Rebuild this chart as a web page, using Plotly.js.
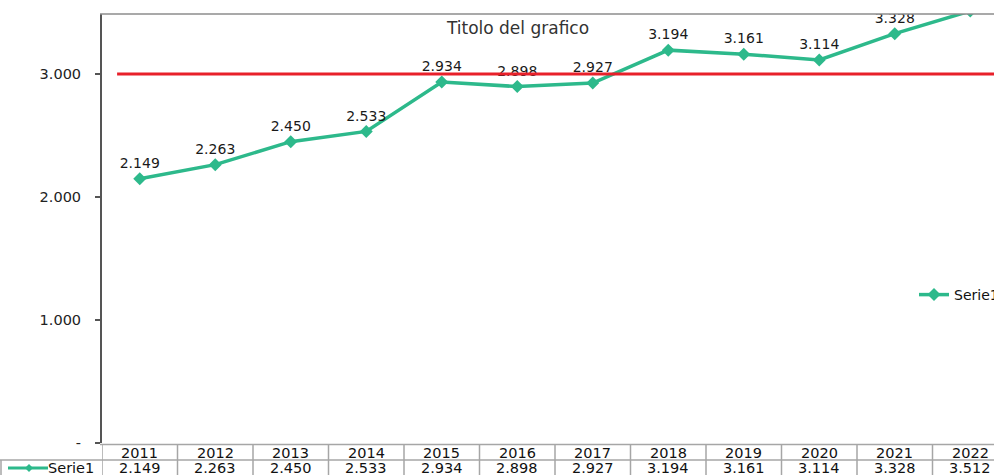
<!DOCTYPE html>
<html><head><meta charset="utf-8">
<script src="https://cdn.plot.ly/plotly-3.0.1.min.js"></script>
<style>html,body{margin:0;padding:0;background:#fff;overflow:hidden;}#chart{width:994px;height:475px;}</style>
</head><body><div id="chart"></div>
<script>
var years = ['2011','2012','2013','2014','2015','2016','2017','2018','2019','2020','2021','2022'];
var serie1 = [2149, 2263, 2450, 2533, 2934, 2898, 2927, 3194, 3161, 3114, 3328, 3512];
var seriesName = 'Serie1';
var targetValue = 3000;
var yTickVals = [0, 1000, 2000, 3000];
var yTickText = ['-', '1.000', '2.000', '3.000'];
var chartTitle = 'Titolo del grafico';

function fmt(v){ return (v/1000).toFixed(3); }

var W = 994, H = 475, L = 102, T = 14, B = 32;
var plotW = W - L, plotH = H - T - B;
var unit = 75.5;
var xMax = plotW / unit - 0.5;
function px2paperX(px){ return (px - L) / plotW; }
function px2paperY(py){ return (H - B - py) / plotH; }

var green = '#2DB98B';
var font = 'DejaVu Sans, Liberation Sans, Arial, sans-serif';
var tblFont = {family: font, size: 14.5, color: '#111'};
var idx = years.map(function(_, i){ return i; });

var traces = [
  {x: idx, y: serie1, type: 'scatter', mode: 'lines+markers+text', name: seriesName,
   line: {color: green, width: 3.5}, marker: {symbol: 'diamond', size: 10, color: green},
   text: serie1.map(fmt), textposition: 'top center',
   textfont: {family: font, size: 14, color: '#1a1a1a'}, cliponaxis: true, hoverinfo: 'none'},
  {x: [-0.3, xMax + 1], y: [targetValue, targetValue], type: 'scatter', mode: 'lines',
   line: {color: '#E8202A', width: 3}, showlegend: false, hoverinfo: 'none'}
];

var shapes = [], annotations = [];
var gray = '#A6A6A6';
for (var i = 0; i <= years.length; i++) {
  shapes.push({type: 'line', xref: 'x', yref: 'paper', x0: i - 0.5, x1: i - 0.5,
    y0: px2paperY(444), y1: px2paperY(476), line: {color: gray, width: 1.5}});
}
shapes.push({type: 'line', xref: 'paper', yref: 'paper', x0: px2paperX(100), x1: 1.01,
  y0: px2paperY(444.5), y1: px2paperY(444.5), line: {color: gray, width: 1.5}});
shapes.push({type: 'line', xref: 'paper', yref: 'paper', x0: px2paperX(0), x1: 1.01,
  y0: px2paperY(460), y1: px2paperY(460), line: {color: gray, width: 1.5}});
shapes.push({type: 'line', xref: 'paper', yref: 'paper', x0: px2paperX(1), x1: px2paperX(1),
  y0: px2paperY(460), y1: px2paperY(476), line: {color: gray, width: 1.5}});
shapes.push({type: 'line', xref: 'paper', yref: 'paper', x0: px2paperX(100), x1: 1.01,
  y0: px2paperY(14), y1: px2paperY(14), line: {color: '#8C8C8C', width: 1.5}});
shapes.push({type: 'line', xref: 'paper', yref: 'paper', x0: px2paperX(8), x1: px2paperX(48),
  y0: px2paperY(468), y1: px2paperY(468), line: {color: green, width: 3}});
shapes.push({type: 'path', xref: 'paper', yref: 'paper',
  path: 'M' + px2paperX(29) + ',' + px2paperY(464) + ' L' + px2paperX(33) + ',' + px2paperY(468) +
        ' L' + px2paperX(29) + ',' + px2paperY(472) + ' L' + px2paperX(25) + ',' + px2paperY(468) + ' Z',
  fillcolor: green, line: {color: green, width: 0}});
annotations.push({xref: 'paper', yref: 'paper', x: px2paperX(46), y: px2paperY(468), text: seriesName,
  showarrow: false, xanchor: 'left', yanchor: 'middle', font: tblFont});

years.forEach(function(yr, i){
  annotations.push({xref: 'x', yref: 'paper', x: i, y: px2paperY(452.5), text: yr, showarrow: false,
    xanchor: 'center', yanchor: 'middle', font: tblFont});
  annotations.push({xref: 'x', yref: 'paper', x: i, y: px2paperY(468.5), text: fmt(serie1[i]), showarrow: false,
    xanchor: 'center', yanchor: 'middle', font: tblFont});
});

var layout = {
  width: W, height: H, margin: {l: L, r: 0, t: T, b: B, pad: 0, autoexpand: false},
  paper_bgcolor: '#fff', plot_bgcolor: '#fff',
  title: {text: chartTitle, x: px2paperX(518), xref: 'paper', xanchor: 'center',
    y: 1 - 28 / H, yref: 'container', yanchor: 'middle',
    font: {family: font, size: 17, color: '#333'}},
  xaxis: {range: [-0.5, xMax], showgrid: false, zeroline: false, showline: false,
    showticklabels: false, ticks: '', fixedrange: true, automargin: false},
  yaxis: {range: [0, (H - B - T) / 123 * 1000], showgrid: false, zeroline: false,
    showline: true, linecolor: '#555', linewidth: 2, ticks: 'outside', ticklen: 5,
    tickcolor: '#555', tickwidth: 1.5, tickvals: yTickVals, ticktext: yTickText, automargin: false,
    tickfont: {family: font, size: 14.5, color: '#222'}, ticklabelstandoff: 11},
  showlegend: true,
  legend: {x: px2paperX(914), y: px2paperY(295), xanchor: 'left', yanchor: 'middle',
    font: {family: font, size: 14, color: '#111'}, bgcolor: 'rgba(0,0,0,0)', borderwidth: 0},
  shapes: shapes, annotations: annotations
};

Plotly.newPlot('chart', traces, layout, {displayModeBar: false, staticPlot: true});
</script></body></html>
